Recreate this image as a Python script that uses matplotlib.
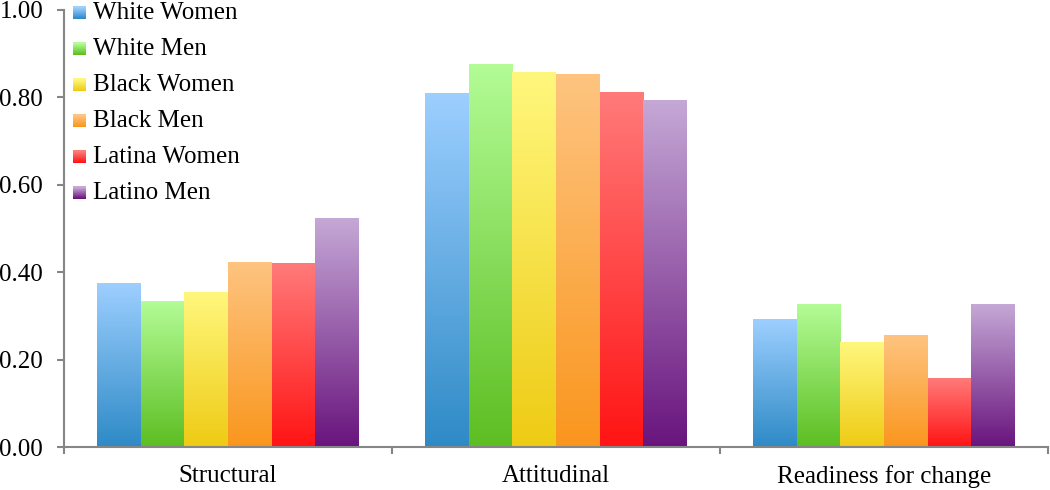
import numpy as np
import matplotlib
matplotlib.use("Agg")
import matplotlib.pyplot as plt
from matplotlib.colors import LinearSegmentedColormap
from matplotlib.patches import Rectangle

categories = ["Structural", "Attitudinal", "Readiness for change"]
groups = ["White Women", "White Men", "Black Women", "Black Men", "Latina Women", "Latino Men"]

white_women = [0.373, 0.809, 0.292]
white_men = [0.334, 0.876, 0.327]
black_women = [0.353, 0.857, 0.239]
black_men = [0.423, 0.853, 0.256]
latina_women = [0.421, 0.811, 0.157]
latino_men = [0.522, 0.793, 0.327]
series = [white_women, white_men, black_women, black_men, latina_women, latino_men]

# gradient colours (top, bottom) per series
top_colors = ["#9DCFFF", "#B3FC96", "#FFF77D", "#FEC480", "#FF7A7A", "#C5A8D6"]
bottom_colors = ["#2E8AC6", "#5DBE22", "#EECB14", "#FA961E", "#FF1414", "#69147D"]

plt.rcParams['font.family'] = ['Liberation Serif', 'DejaVu Serif']

fig = plt.figure(figsize=(10.5, 4.9), dpi=100)
ax = fig.add_axes([64 / 1050, 1 - 447 / 490, 984 / 1050, 437 / 490])

n = len(groups)
group_w = 0.8
bar_w = group_w / n
x = np.arange(len(categories))
grad = np.linspace(1, 0, 256).reshape(-1, 1)

for i, vals in enumerate(series):
    cmap = LinearSegmentedColormap.from_list("g%d" % i, [bottom_colors[i], top_colors[i]])
    for j, v in enumerate(vals):
        left = x[j] - group_w / 2 + i * bar_w
        ax.imshow(grad, cmap=cmap, vmin=0, vmax=1, aspect='auto',
                  extent=[left, left + bar_w, 0, v], interpolation='bicubic', zorder=2)

ax.set_xlim(-0.5, len(categories) - 0.5)
ax.set_ylim(0, 1.0)

gray = "#868686"
for s in ["top", "right"]:
    ax.spines[s].set_visible(False)
for s in ["left", "bottom"]:
    ax.spines[s].set_color(gray)
    ax.spines[s].set_linewidth(1.5)

ax.set_yticks(np.arange(0, 1.01, 0.2))
ax.set_yticklabels(["%.2f" % t for t in np.arange(0, 1.01, 0.2)])
ax.tick_params(axis='y', direction='out', length=5, width=1.5, color=gray, pad=10, labelsize=18)

ax.set_xticks(np.arange(-0.5, len(categories)), minor=False)
ax.set_xticklabels([])
ax.set_xticks(x, minor=True)
ax.set_xticklabels(categories, minor=True)
ax.tick_params(axis='x', which='major', direction='out', length=5, width=1.5, color=gray)
ax.tick_params(axis='x', which='minor', length=0, pad=13, labelsize=18)

# manual legend with gradient squares
ax_h = 437.0
ax_w = 984.0
for i, g in enumerate(groups):
    cy = 13 + 36 * i
    y0 = (447 - cy - 6.5) / ax_h
    h = 13 / ax_h
    x0 = 9 / ax_w
    w = 13 / ax_w
    cmap = LinearSegmentedColormap.from_list("l%d" % i, [bottom_colors[i], top_colors[i]])
    steps = 12
    for k in range(steps):
        ax.add_patch(Rectangle((x0, y0 + h * k / steps), w, h / steps + 0.0005,
                               transform=ax.transAxes, facecolor=cmap(k / (steps - 1)),
                               edgecolor='none', clip_on=False, zorder=3))
    ax.text(29 / ax_w, (447 - cy) / ax_h, g, transform=ax.transAxes, fontsize=18,
            va='center', ha='left', clip_on=False, zorder=3)

fig.savefig("out.png", dpi=100)
